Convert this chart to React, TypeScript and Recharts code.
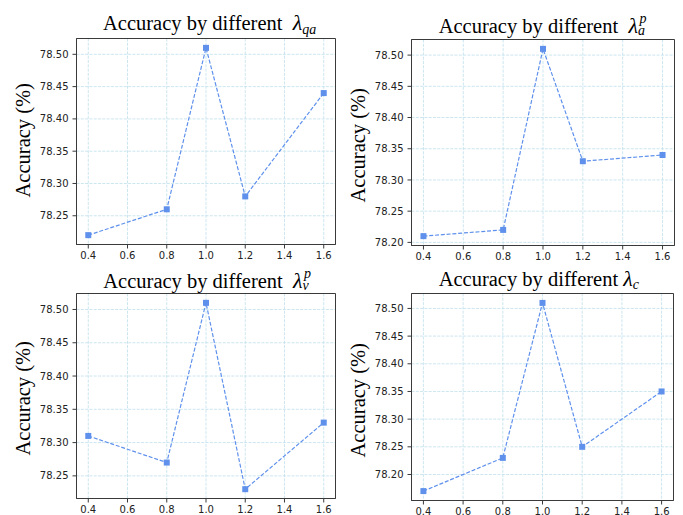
import React from 'react';
import { LineChart, Line, XAxis, YAxis, CartesianGrid, ReferenceArea } from 'recharts';

const lambdas = [0.4, 0.8, 1.0, 1.2, 1.6];
const accQa = [78.22, 78.26, 78.51, 78.28, 78.44];
const accAp = [78.21, 78.22, 78.51, 78.33, 78.34];
const accVp = [78.31, 78.27, 78.51, 78.23, 78.33];
const accC = [78.17, 78.23, 78.51, 78.25, 78.35];

const xTicks = [0.4, 0.6, 0.8, 1.0, 1.2, 1.4, 1.6];
const yTicksFrom25 = [78.25, 78.3, 78.35, 78.4, 78.45, 78.5];
const yTicksFrom20 = [78.2, 78.25, 78.3, 78.35, 78.4, 78.45, 78.5];

const LINE = '#5f91ec';
const GRID = '#bfe0ec';
const SPINE = '#3a3a3a';
const SERIF = '"Liberation Serif", "Times New Roman", serif';
const X_DOMAIN: [number, number] = [0.34, 1.66];

type Panel = {
  values: number[];
  yTicks: number[];
  yDomain: [number, number];
  left: number;
  top: number;
  width: number;
  margin: { top: number; right: number; left: number; bottom: number };
  yAxisWidth: number;
  xAxisHeight: number;
  title: { left: number; baseline: number; symbol: React.ReactNode };
  yLabel: { cx: number; cy: number };
};

const lam = <i style={{ fontSize: 22 }}>λ</i>;

const sub = (s: string, drop: number) => (
  <span style={{ fontSize: 14, fontStyle: 'italic', position: 'relative', top: drop }}>{s}</span>
);

const subSup = (lo: string, hi: string) => (
  <span style={{ display: 'inline-block', position: 'relative', width: 12, height: 20.5 }}>
    <span style={{ position: 'absolute', left: 1.5, top: -0.5, fontSize: 14, fontStyle: 'italic', lineHeight: 1 }}>{hi}</span>
    <span style={{ position: 'absolute', left: 0, top: 11.5, fontSize: 14, fontStyle: 'italic', lineHeight: 1 }}>{lo}</span>
  </span>
);

// plot edges land on half pixels so the 1px frame stays sharp
const panels: Panel[] = [
  {
    values: accQa, yTicks: yTicksFrom25, yDomain: [78.2055, 78.5245],
    left: 0, top: 0, width: 342,
    margin: { top: 38.5, right: 6.5, left: 0, bottom: 0 }, yAxisWidth: 76.5, xAxisHeight: 25.5,
    title: { left: 103, baseline: 29.3, symbol: <>{'\u00a0 '}{lam}{sub('qa', 3.5)}</> },
    yLabel: { cx: 22.5, cy: 140 },
  },
  {
    values: accAp, yTicks: yTicksFrom20, yDomain: [78.195, 78.525],
    left: 342, top: 0, width: 341,
    margin: { top: 39.5, right: 8.5, left: 0, bottom: 0 }, yAxisWidth: 69.5, xAxisHeight: 24.5,
    title: { left: 96.7, baseline: 29.3, symbol: <>{'\u00a0 '}{lam}{subSup('a', 'p')}</> },
    yLabel: { cx: 16, cy: 145 },
  },
  {
    values: accVp, yTicks: yTicksFrom25, yDomain: [78.216, 78.524],
    left: 0, top: 258, width: 342,
    margin: { top: 35.5, right: 6.5, left: 0, bottom: 0 }, yAxisWidth: 76.5, xAxisHeight: 29.5,
    title: { left: 103.3, baseline: 26.5, symbol: <>{'\u00a0 '}{lam}{subSup('v', 'p')}</> },
    yLabel: { cx: 22.5, cy: 140 },
  },
  {
    values: accC, yTicks: yTicksFrom20, yDomain: [78.153, 78.527],
    left: 342, top: 258, width: 341,
    margin: { top: 35.5, right: 9.5, left: 0, bottom: 0 }, yAxisWidth: 69.5, xAxisHeight: 27.5,
    title: { left: 96.7, baseline: 26.7, symbol: <>{' '}{lam}{sub('c', 3)}</> },
    yLabel: { cx: 16, cy: 142.5 },
  },
];

const SquareDot = (props: any) => {
  const { cx, cy } = props;
  if (cx == null || cy == null) return null;
  return <rect x={cx - 3} y={cy - 3} width={6} height={6} fill={LINE} />;
};

const tickStyle = { fill: '#222', fontSize: 10, fontFamily: '"DejaVu Sans", sans-serif' };

const PanelChart: React.FC<{ p: Panel }> = ({ p }) => {
  const data = lambdas.map((x, i) => ({ x, acc: p.values[i] }));
  return (
    <div style={{ position: 'absolute', left: p.left, top: p.top, width: p.width, height: 270 }}>
      <LineChart width={p.width} height={270} data={data} margin={p.margin}>
        <CartesianGrid stroke={GRID} strokeDasharray="3 1.3" strokeWidth={0.8} />
        <XAxis
          dataKey="x"
          type="number"
          domain={X_DOMAIN}
          ticks={xTicks}
          allowDataOverflow
          height={p.xAxisHeight}
          tickFormatter={(v: number) => v.toFixed(1)}
          tick={tickStyle}
          tickSize={4}
          tickMargin={3}
          axisLine={{ stroke: SPINE }}
          tickLine={{ stroke: SPINE }}
          interval={0}
        />
        <YAxis
          type="number"
          domain={p.yDomain}
          ticks={p.yTicks}
          allowDataOverflow
          width={p.yAxisWidth}
          tickFormatter={(v: number) => v.toFixed(2)}
          tick={tickStyle}
          tickSize={4}
          tickMargin={4}
          axisLine={{ stroke: SPINE }}
          tickLine={{ stroke: SPINE }}
          interval={0}
        />
        <Line
          type="linear"
          dataKey="acc"
          stroke={LINE}
          strokeWidth={1.2}
          strokeDasharray="4 1.8"
          dot={<SquareDot />}
          activeDot={false}
          isAnimationActive={false}
        />
        <ReferenceArea
          x1={X_DOMAIN[0]}
          x2={X_DOMAIN[1]}
          y1={p.yDomain[0]}
          y2={p.yDomain[1]}
          ifOverflow="visible"
          fill="#ffffff"
          fillOpacity={0}
          stroke={SPINE}
          strokeOpacity={1}
          strokeWidth={1}
        />
      </LineChart>
      <div
        style={{
          position: 'absolute',
          left: p.title.left,
          top: p.title.baseline - 17.2,
          fontFamily: SERIF,
          fontSize: 20.5,
          lineHeight: 1,
          whiteSpace: 'nowrap',
          color: '#000',
        }}
      >
        Accuracy by different{p.title.symbol}
      </div>
      <div
        style={{
          position: 'absolute',
          left: p.yLabel.cx - 100,
          top: p.yLabel.cy - 10.25,
          width: 200,
          height: 20.5,
          textAlign: 'center',
          fontFamily: SERIF,
          fontSize: 20.5,
          lineHeight: 1,
          whiteSpace: 'nowrap',
          transform: 'rotate(-90deg)',
          color: '#000',
        }}
      >
        Accuracy (%)
      </div>
    </div>
  );
};

export default function App() {
  return (
    <div
      style={{
        position: 'fixed',
        left: 0,
        top: 0,
        width: 683,
        height: 515,
        overflow: 'hidden',
        background: '#fff',
      }}
    >
      {panels.map((p, i) => (
        <PanelChart key={i} p={p} />
      ))}
    </div>
  );
}
